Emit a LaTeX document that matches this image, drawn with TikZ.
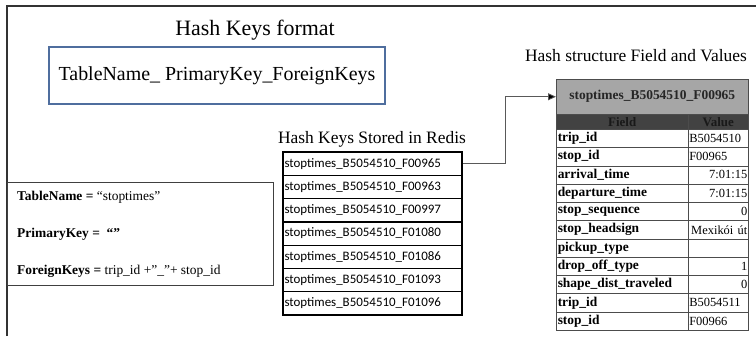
\documentclass[tikz,border=0pt]{standalone}
\usepackage{fontspec}
\setmainfont{Liberation Serif}
\newfontfamily\keyfont{Carlito}
\usetikzlibrary{arrows.meta}
\definecolor{frameblue}{HTML}{4F6E9E}
\definecolor{hdrgrey}{HTML}{A6A6A6}
\definecolor{hdrdark}{HTML}{424242}
\tikzset{
  frame/.style={draw=black!80, line width=1.4bp},
  titletext/.style={font=\fontsize{22}{26}\selectfont},
  subtitle/.style={font=\fontsize{17.5}{20}\selectfont},
  fmtbox/.style={draw=frameblue, line width=1.1bp, minimum width=336bp,
    minimum height=57bp, font=\fontsize{20}{24}\selectfont},
  defbox/.style={draw=black!75, line width=0.9bp, anchor=north west,
    minimum width=266bp, minimum height=103bp, inner sep=0},
  defline/.style={anchor=west, inner sep=0, font=\fontsize{13.5}{16}\selectfont},
  keycell/.style={draw, line width=1.3bp, minimum width=179bp,
    minimum height=23.3bp, text width=176bp, inner xsep=1.5bp, inner ysep=0,
    align=left, font=\keyfont\fontsize{13}{15}\selectfont},
  cell/.style={draw=black!70, line width=0.5bp, anchor=north west,
    inner xsep=1.5bp, inner ysep=0, minimum height=18.27bp},
  fieldcell/.style={cell, minimum width=132bp, text width=129bp, align=left,
    font=\bfseries\fontsize{13.5}{15}\selectfont},
  valuecell/.style={cell, minimum width=60bp, text width=58bp, inner xsep=1bp,
    font=\fontsize{12.5}{15}\selectfont},
  conn/.style={draw=black!65, line width=0.8bp,
    -{Triangle[length=8bp, width=7bp, fill=black]}},
}
\begin{document}
\begin{tikzpicture}[x=1bp, y=-1bp]
  \useasboundingbox (0,0) rectangle (756,336);
  % outer frame (top and left edges)
  \draw[frame] (7,336) -- (7,6) -- (756,6);

  % key format
  \node[titletext] (fmttitle) at (255,30) {Hash Keys format};
  \node[fmtbox] (fmt) at (217,75.5) {TableName\_ PrimaryKey\_ForeignKeys};

  % key definitions
  \node[defbox] (defs) at (7,182) {};
  \node[defline] (d1) at (17,197) {\textbf{TableName =} “stoptimes”};
  \node[defline] (d2) at (17,234) {\textbf{PrimaryKey =\ \ “”}};
  \node[defline] (d3) at (17,271) {\textbf{ForeignKeys =} trip\_id +”\_”+ stop\_id};

  % keys stored in redis
  \node[subtitle] (keystitle) at (372,139) {Hash Keys Stored in Redis};
  \foreach \k [count=\i] in {F00965,F00963,F00997,F01080,F01086,F01093,F01096}
    \node[keycell] (k\i) at (372.5,{163.65+(\i-1)*23.3}) {stoptimes\_B5054510\_\k};

  % hash structure
  \node[subtitle] (hashtitle) at (636,56) {Hash structure Field and Values};
  \node[cell, fill=hdrgrey, minimum width=192bp, minimum height=35bp,
        font=\bfseries\fontsize{13.5}{15}\selectfont, text=black!85]
        (hh) at (556,79) {stoptimes\_B5054510\_F00965};
  \node[cell, fill=hdrdark, minimum width=132bp, minimum height=15bp,
        font=\bfseries\fontsize{13}{15}\selectfont, text=black!90]
        (fh) at (556,114) {Field};
  \node[cell, fill=hdrdark, minimum width=60bp, minimum height=15bp,
        font=\bfseries\fontsize{13}{15}\selectfont, text=black!90]
        (vh) at (688,114) {Value};
  \foreach \f/\v/\al [count=\i] in {
      trip\_id/B5054510/left,
      stop\_id/F00965/left,
      arrival\_time/7:01:15/right,
      departure\_time/7:01:15/right,
      stop\_sequence/0/right,
      stop\_headsign/Mexikói út/right,
      pickup\_type//right,
      drop\_off\_type/1/right,
      shape\_dist\_traveled/0/right,
      trip\_id/B5054511/left,
      stop\_id/F00966/left} {
    \node[fieldcell] (f\i) at (556,{129+(\i-1)*18.27}) {\f};
    \node[valuecell, align=\al] (v\i) at (688,{129+(\i-1)*18.27}) {\v};
  }

  % link from the first key to its hash
  \draw[conn] (k1.east) -- ++(43,0) |- (hh.west);
\end{tikzpicture}
\end{document}
